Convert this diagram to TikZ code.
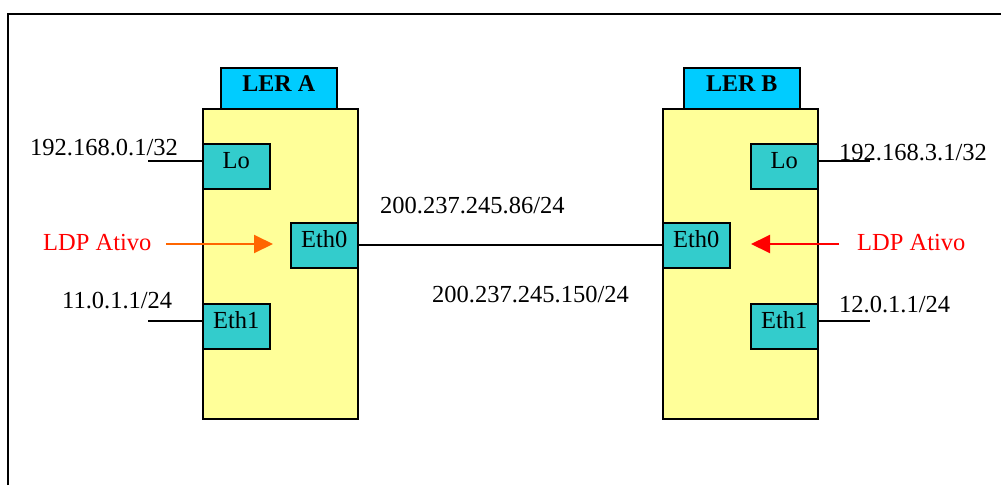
\documentclass[tikz,border=0pt]{standalone}
\usepackage{fontspec}
\setmainfont{Liberation Serif}
\usetikzlibrary{arrows.meta}
\definecolor{bodyyellow}{HTML}{FFFF99}
\definecolor{labelcyan}{HTML}{00CCFF}
\definecolor{ifteal}{HTML}{33CCCC}
\definecolor{arroworange}{HTML}{FF6600}
\definecolor{arrowred}{HTML}{FF0000}
\begin{document}
\begin{tikzpicture}[x=1pt,y=-1pt,
  every node/.style={font=\fontsize{24.5}{28}\selectfont},
  body/.style={draw=black, line width=1.5pt, fill=bodyyellow, anchor=north west,
    minimum width=155pt, minimum height=310pt, inner sep=0pt},
  lerlabel/.style={draw=black, line width=1.5pt, fill=labelcyan, anchor=north west,
    minimum width=116pt, minimum height=41pt, inner sep=0pt,
    font=\fontsize{24}{28}\selectfont\bfseries, text height=17pt, text depth=10pt},
  iface/.style={draw=black, line width=1.5pt, fill=ifteal, anchor=north west,
    minimum width=67pt, minimum height=45pt, inner sep=0pt,
    text height=16pt, text depth=12pt},
  txt/.style={anchor=base west, inner sep=0pt},
  wire/.style={line width=1.8pt},
  ldp/.style={line width=2pt, -{Triangle[length=19pt,width=18pt]}}
]
\useasboundingbox (0,0) rectangle (1001,485);
\draw[line width=1.5pt] (8,485) -- (8,14) -- (1001,14);

% LER A
\node[body] (bodyA) at (202,108) {};
\node[lerlabel] (labA) at (220,67) {LER A};
\node[iface] (loA) at (202,143) {Lo};
\node[iface] (eth0A) at (290,222) {Eth0};
\node[iface] (eth1A) at (202,303) {Eth1};

% LER B
\node[body] (bodyB) at (662,108) {};
\node[lerlabel] (labB) at (683,67) {LER B};
\node[iface] (loB) at (750,143) {Lo};
\node[iface] (eth0B) at (662,222) {Eth0};
\node[iface] (eth1B) at (750,303) {Eth1};

% stubs
\coordinate (sA1) at (148,161);
\coordinate (sA2) at (148,321);
\coordinate (sB1) at (870,161);
\coordinate (sB2) at (870,321);
\draw[wire] (sA1) -- (sA1 -| loA.west);
\draw[wire] (sA2) -- (sA2 -| eth1A.west);
\draw[wire] (sB1 -| loB.east) -- (sB1);
\draw[wire] (sB2 -| eth1B.east) -- (sB2);

% link
\draw[wire] (eth0A.east) -- (eth0B.west);

% texts
\node[txt] (ipA1) at (30,155) {192.168.0.1/32};
\node[txt] (ipA2) at (62,308) {11.0.1.1/24};
\node[txt] (ipB1) at (839,160) {192.168.3.1/32};
\node[txt] (ipB2) at (839,312) {12.0.1.1/24};
\node[txt] (link1) at (380,213) {200.237.245.86/24};
\node[txt] (link2) at (432,302) {200.237.245.150/24};
\node[txt, text=arrowred] (ldpA) at (43,250) {LDP Ativo};
\node[txt, text=arrowred] (ldpB) at (857,250) {LDP Ativo};

% LDP arrows
\coordinate (aA1) at (166,244);
\coordinate (aA2) at (273,244);
\coordinate (aB1) at (839,244);
\coordinate (aB2) at (751,244);
\draw[ldp, arroworange] (aA1) -- (aA2);
\draw[ldp, arrowred] (aB1) -- (aB2);
\end{tikzpicture}
\end{document}
